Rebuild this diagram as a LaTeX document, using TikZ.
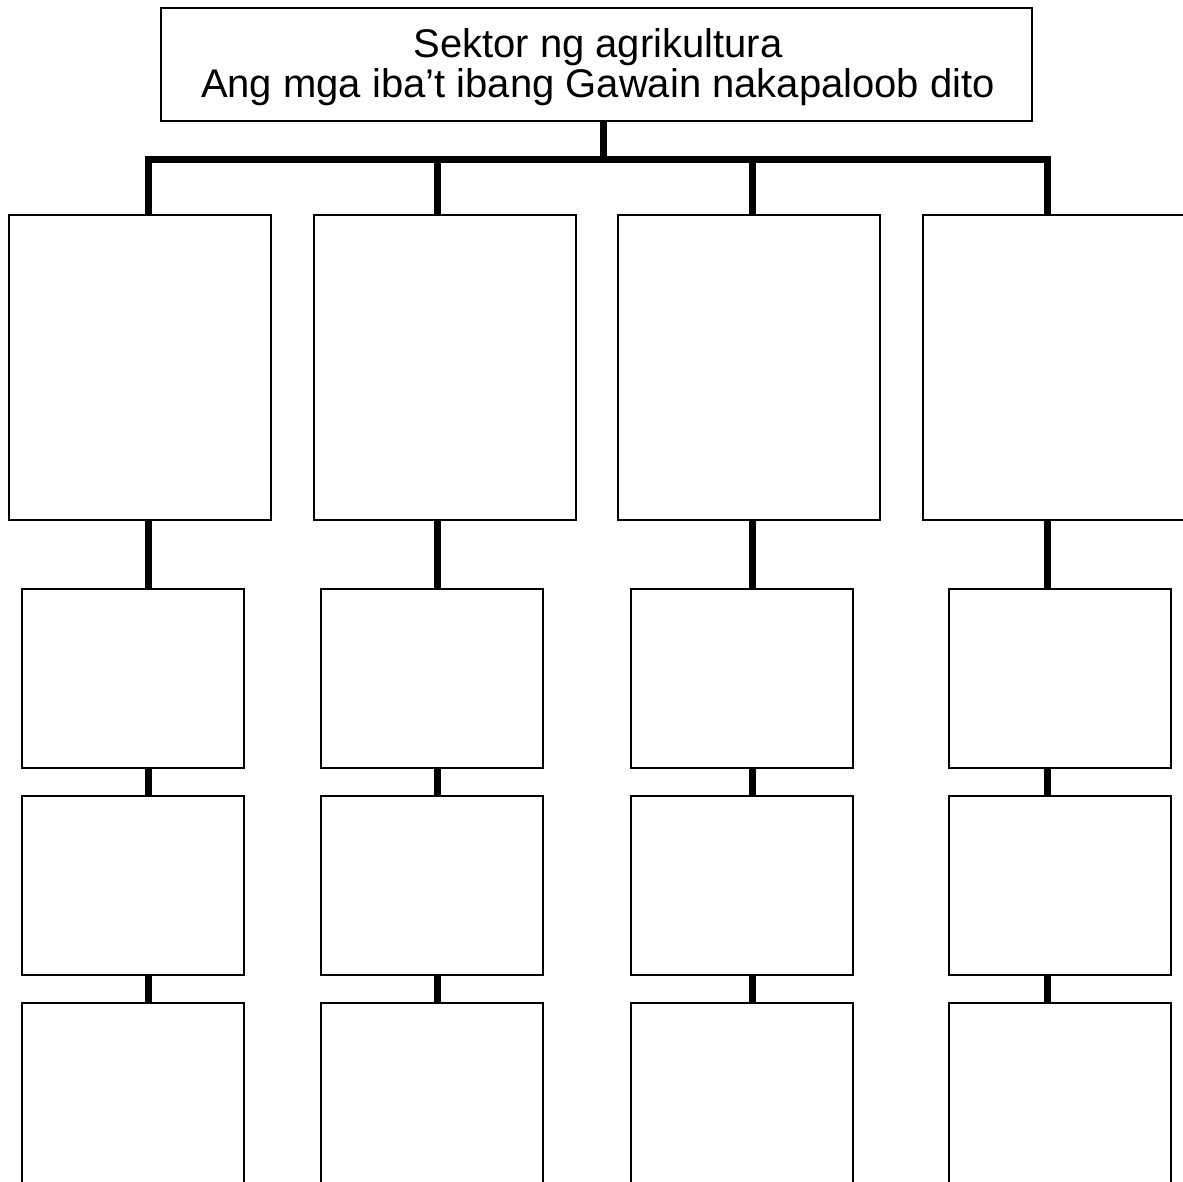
\documentclass[tikz,border=0pt]{standalone}
\usepackage{fontspec}
\setmainfont{Liberation Sans}
\begin{document}
\begin{tikzpicture}[x=0.5pt,y=-0.5pt,
  box/.style={draw=black,line width=1pt,fill=white,rectangle,inner sep=0pt,outer sep=0pt},
  bigbox/.style={box,minimum width=131pt,minimum height=152.5pt},
  smallbox/.style={box,minimum width=111pt,minimum height=89.5pt},
  lastbox/.style={box,minimum width=111pt,minimum height=95pt},
  conn/.style={line width=3.5pt,line join=miter,line cap=butt}]
\useasboundingbox (0,0) rectangle (1183,1182);
\clip (0,0) rectangle (1183,1182);
% top box
\node[box,minimum width=435.5pt,minimum height=56.5pt] (top) at (596.5,64.5) {};
\node[align=center,font=\fontsize{20}{20}\selectfont,inner sep=0pt] (title) at (598,67)
  {Sektor ng agrikultura\\Ang mga iba’t ibang Gawain nakapaloob dito};
% connector x positions
\coordinate (c1) at (148,160);
\coordinate (c2) at (437,160);
\coordinate (c3) at (752,160);
\coordinate (c4) at (1047,160);
\coordinate (cs) at (603,160);
% row 1
\node[bigbox] (r1a) at (140,367.5) {};
\node[bigbox] (r1b) at (444.5,367.5) {};
\node[bigbox] (r1c) at (749,367.5) {};
\node[bigbox] (r1d) at (1053.5,367.5) {};
% row 2
\node[smallbox] (r2a) at (133,678.5) {};
\node[smallbox] (r2b) at (432,678.5) {};
\node[smallbox] (r2c) at (742,678.5) {};
\node[smallbox] (r2d) at (1059.5,678.5) {};
% row 3
\node[smallbox] (r3a) at (133,885.5) {};
\node[smallbox] (r3b) at (432,885.5) {};
\node[smallbox] (r3c) at (742,885.5) {};
\node[smallbox] (r3d) at (1059.5,885.5) {};
% row 4
\node[lastbox] (r4a) at (133,1098) {};
\node[lastbox] (r4b) at (432,1098) {};
\node[lastbox] (r4c) at (742,1098) {};
\node[lastbox] (r4d) at (1059.5,1098) {};
% bus
\draw[conn] (top.south -| cs) -- (cs);
\draw[conn] (r1a.north -| c1) -- (c1) -- (c4) -- (r1d.north -| c4);
\draw[conn] (c2) -- (r1b.north -| c2);
\draw[conn] (c3) -- (r1c.north -| c3);
% vertical chains
\foreach \col/\c in {a/c1,b/c2,c/c3,d/c4}{
  \draw[conn] (r1\col.south -| \c) -- (r2\col.north -| \c);
  \draw[conn] (r2\col.south -| \c) -- (r3\col.north -| \c);
  \draw[conn] (r3\col.south -| \c) -- (r4\col.north -| \c);
}
\end{tikzpicture}
\end{document}
